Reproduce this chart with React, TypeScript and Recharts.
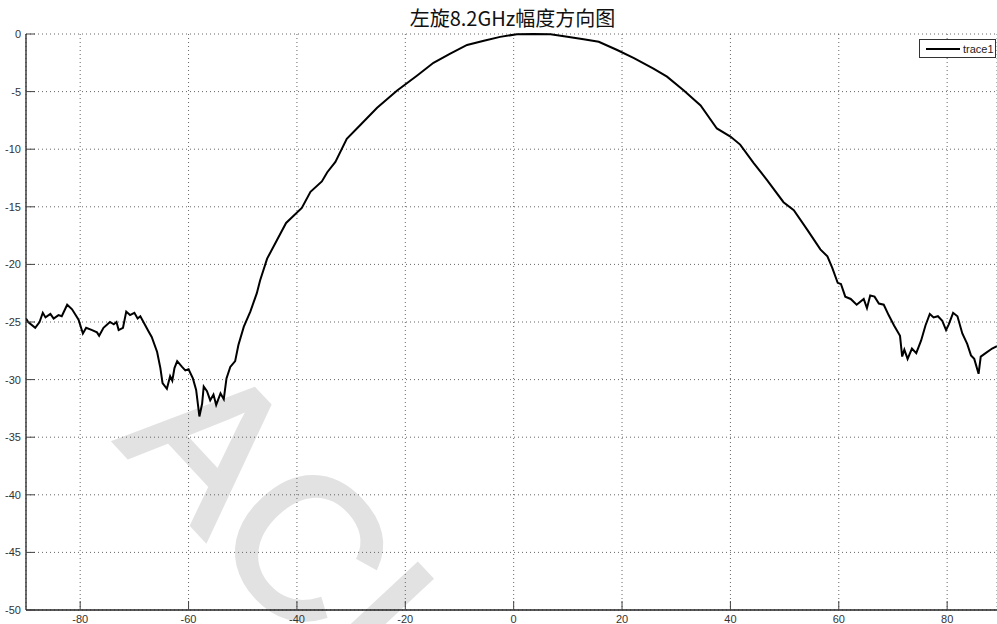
import React from 'react';
import { LineChart, Line, XAxis, YAxis, CartesianGrid, Legend } from 'recharts';

// angle (deg) and amplitude (dB)
const angles = [
  -90, -89.6, -88.3, -87.5, -86.9, -86.4, -85.5, -84.9, -84, -83.4, -82.4, -81.5, -80.3, -79.5, -78.9,
  -77.8, -76.9, -76.5, -75.7, -74.5, -73.8, -73.3, -72.9, -72.1, -71.5, -70.8, -70, -69.4, -68.9, -68.2,
  -67.4, -66.8, -65.8, -65.2, -64.8, -64, -63.4, -63, -62.6, -62.1, -61.2, -60.6, -60, -59.2, -58.6,
  -58, -57.5, -57.2, -56.6, -56, -55.4, -54.9, -54.1, -53.5, -53, -52.3, -51.4, -50.8, -49.8, -48.6,
  -47.4, -46.8, -45.5, -43.7, -42, -40.9, -39.1, -37.5, -35.4, -34.4, -32.9, -30.8, -28.3, -25.2, -21.5,
  -17.8, -14.8, -11.7, -8.6, -5.5, -2.5, 0.6, 3.7, 6.8, 9.9, 12.9, 15.7, 19.1, 22.2, 25.8,
  28.3, 31.4, 34.5, 37.5, 40, 41.8, 44.3, 46.8, 49.8, 51.7, 54.2, 56.6, 57.9, 58.8, 59.8,
  60.4, 61.2, 62.2, 63.3, 64.6, 65.2, 65.8, 66.6, 67.4, 68.3, 69.2, 70.2, 71.3, 71.7, 72.1,
  72.7, 73.5, 74.3, 75.2, 76, 76.8, 77.5, 78.3, 79.1, 79.8, 80.3, 81.1, 81.9, 82.8, 83.7,
  84.4, 85, 85.8, 86.2, 87.1, 88.3, 89.2,
];

const gains = [
  -24.7, -25.0, -25.5, -25.0, -24.2, -24.6, -24.3, -24.7, -24.4, -24.5, -23.5, -23.9, -24.8, -26.0, -25.5,
  -25.7, -25.9, -26.2, -25.5, -25.0, -25.2, -25.0, -25.7, -25.5, -24.1, -24.4, -24.2, -24.7, -24.5, -25.1,
  -25.8, -26.3, -27.6, -29.0, -30.3, -30.8, -29.7, -30.1, -29.0, -28.4, -28.9, -29.2, -29.1, -29.9, -30.9,
  -33.2, -32.1, -30.6, -31.0, -31.8, -31.3, -32.2, -31.2, -31.7, -29.9, -28.9, -28.4, -27.0, -25.4, -24.1,
  -22.5, -21.4, -19.5, -17.9, -16.4, -15.9, -15.1, -13.7, -12.8, -12.0, -11.1, -9.1, -7.9, -6.4, -4.9,
  -3.6, -2.5, -1.7, -0.95, -0.58, -0.25, -0.02, 0, -0.03, -0.23, -0.46, -0.67, -1.39, -2.1, -3.0,
  -3.7, -4.9, -6.2, -8.2, -8.9, -9.6, -11.2, -12.7, -14.6, -15.3, -17.0, -18.7, -19.3, -20.3, -21.6,
  -21.7, -22.8, -23.0, -23.5, -23.0, -23.8, -22.7, -22.8, -23.4, -23.5, -24.4, -25.3, -26.2, -28.0, -27.4,
  -28.2, -27.3, -27.7, -26.6, -25.3, -24.3, -24.6, -24.5, -24.9, -25.7, -25.2, -24.2, -24.5, -26.0, -26.9,
  -27.9, -28.2, -29.5, -28.0, -27.7, -27.3, -27.1,
];

const xTicks = [-80, -60, -40, -20, 0, 20, 40, 60, 80];
const yTicks = [0, -5, -10, -15, -20, -25, -30, -35, -40, -45, -50];

const data = angles.map((a, i) => ({ angle: a, trace1: gains[i] }));

const tickFont = { fontFamily: 'Arial, "Liberation Sans", sans-serif', fontSize: 11, fill: '#333' };

const XTick = (props: any) => {
  const { x, y, payload } = props;
  return (
    <g>
      <line x1={x} y1={y} x2={x} y2={y - 9} stroke="#444" strokeWidth={1} />
      <text x={x} y={y + 13} textAnchor="middle" {...tickFont}>{payload.value}</text>
    </g>
  );
};

const YTick = (props: any) => {
  const { x, y, payload } = props;
  return (
    <g>
      <line x1={x} y1={y} x2={x + 9} y2={y} stroke="#444" strokeWidth={1} />
      <text x={x - 5} y={y + 4} textAnchor="end" {...tickFont}>{payload.value}</text>
    </g>
  );
};

const LegendBox = () => (
  <div
    style={{
      width: 77,
      height: 19,
      border: '1px solid #333',
      background: '#fff',
      display: 'flex',
      alignItems: 'center',
      boxSizing: 'border-box',
    }}
  >
    <div style={{ width: 34, height: 2, background: '#000', marginLeft: 6 }} />
    <span style={{ ...tickFont, color: '#222', marginLeft: 3, fontSize: 11 }}>trace1</span>
  </div>
);

export default function App() {
  return (
    <div style={{ position: 'absolute', left: 0, top: 0, width: 997, height: 624, background: '#fff', overflow: 'hidden' }}>
      {/* faint watermark behind the plot */}
      <svg width={997} height={624} style={{ position: 'absolute', left: 0, top: 0 }}>
        <text
          x={0}
          y={0}
          transform="translate(115 442) rotate(47)"
          fontFamily="Arial, sans-serif"
          fontSize={200}
          fill="#e2e2e2"
          stroke="#e2e2e2"
          strokeWidth={5}
        >
          ACI
        </text>
      </svg>
      <div
        style={{
          position: 'absolute',
          left: 0,
          top: 3,
          width: 1025,
          textAlign: 'center',
          fontFamily: '"Noto Sans CJK SC", sans-serif',
          fontSize: 20,
          color: '#111',
        }}
      >
        左旋8.2GHz幅度方向图
      </div>
      <div style={{ position: 'absolute', left: 0, top: 0 }}>
        <LineChart width={997} height={624} data={data} margin={{ top: 34, right: 0, bottom: 0, left: 0 }}>
          <CartesianGrid stroke="#666" strokeDasharray="1 3" />
          <XAxis
            dataKey="angle"
            type="number"
            domain={[-90, 89.2]}
            ticks={xTicks}
            interval={0}
            height={14}
            tickSize={0}
            tickMargin={0}
            tickLine={false}
            tick={<XTick />}
            axisLine={{ stroke: '#222', strokeWidth: 1.3 }}
            allowDataOverflow
          />
          <YAxis
            type="number"
            domain={[-50, 0]}
            ticks={yTicks}
            interval={0}
            width={26}
            tickSize={0}
            tickMargin={0}
            tickLine={false}
            tick={<YTick />}
            axisLine={{ stroke: '#222', strokeWidth: 1.3 }}
          />
          <Legend
            layout="horizontal"
            verticalAlign="middle"
            align="center"
            content={<LegendBox />}
            wrapperStyle={{ position: 'absolute', top: 39, left: 919, width: 77 }}
          />
          <Line
            type="linear"
            dataKey="trace1"
            stroke="#000"
            strokeWidth={2}
            dot={false}
            isAnimationActive={false}
          />
        </LineChart>
      </div>
    </div>
  );
}
